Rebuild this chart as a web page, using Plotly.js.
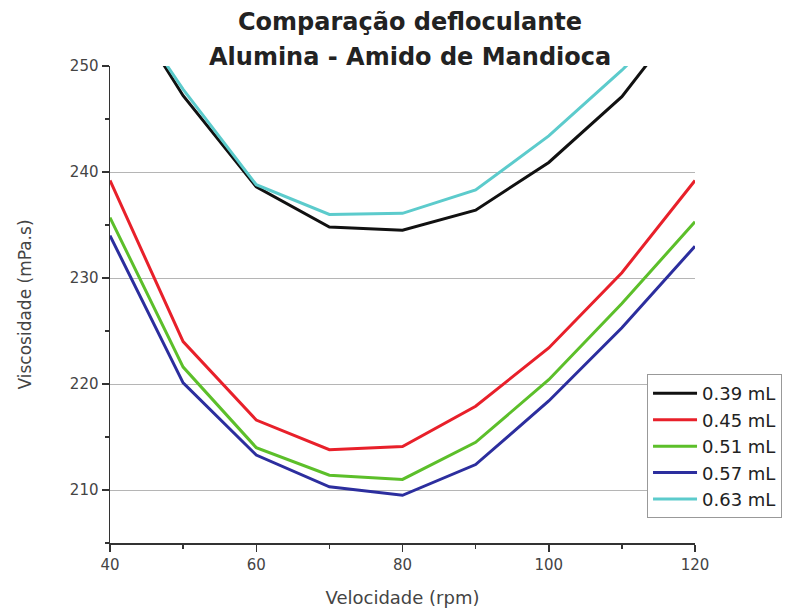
<!DOCTYPE html>
<html>
<head>
<meta charset="utf-8">
<script src="https://cdn.plot.ly/plotly-3.0.1.min.js"></script>
<style>html,body{margin:0;padding:0;background:#fff;}#chart{width:790px;height:612px;}</style>
</head>
<body>
<div id="chart"></div>
<script>
var velocidade = [40, 50, 60, 70, 80, 90, 100, 110, 120];
var seriesNames = ["0.39 mL", "0.45 mL", "0.51 mL", "0.57 mL", "0.63 mL"];
var v039 = [258.2, 247.2, 238.6, 234.8, 234.5, 236.4, 240.9, 247.1, 256.0];
var v045 = [239.2, 224.0, 216.6, 213.8, 214.1, 217.9, 223.4, 230.5, 239.2];
var v051 = [235.7, 221.6, 214.0, 211.4, 211.0, 214.5, 220.4, 227.6, 235.3];
var v057 = [234.0, 220.1, 213.3, 210.3, 209.5, 212.4, 218.4, 225.3, 233.0];
var v063 = [258.0, 247.8, 238.8, 236.0, 236.1, 238.3, 243.4, 249.6, 256.5];
var colors = ["#111111", "#e8202a", "#5cbf2a", "#2c2e9e", "#5ccbcc"];
var yTicks = [210, 220, 230, 240, 250];
var gridTicks = [210, 220, 230, 240];
var xTicks = [40, 60, 80, 100, 120];

var allY = [v039, v045, v051, v057, v063];
var traces = allY.map(function (ys, i) {
  return {
    x: velocidade, y: ys, name: seriesNames[i], type: "scatter", mode: "lines",
    line: {color: colors[i], width: 3}
  };
});
// invisible trace to host grid axis
traces.push({x: [velocidade[0]], y: [gridTicks[0]], yaxis: "y2", showlegend: false,
  mode: "markers", marker: {opacity: 0}, hoverinfo: "skip"});

var font = "DejaVu Sans, Verdana, sans-serif";
var layout = {
  width: 790, height: 612,
  paper_bgcolor: "#ffffff", plot_bgcolor: "rgba(0,0,0,0)",
  margin: {l: 110, r: 95, t: 66, b: 69, autoexpand: false},
  font: {family: font, color: "#444444", size: 15},
  showlegend: true,
  xaxis: {
    range: [40, 120], tickvals: xTicks, ticks: "outside", ticklen: 7, tickwidth: 1.5,
    tickcolor: "#333", showline: true, linecolor: "#333", linewidth: 1.5,
    showgrid: false, zeroline: false, tickfont: {size: 15, color: "#444"},
    minor: {dtick: 10, tick0: 40, ticks: "outside", ticklen: 4, tickcolor: "#333", showgrid: false},
    title: {text: "Velocidade (rpm)", font: {size: 18, color: "#444"}, standoff: 19}
  },
  yaxis: {
    range: [205, 250], tickvals: yTicks, ticks: "outside", ticklen: 7, tickwidth: 1.5,
    tickcolor: "#333", showline: true, linecolor: "#333", linewidth: 1.5,
    showgrid: false, zeroline: false, tickfont: {size: 15, color: "#444"},
    minor: {dtick: 5, tick0: 205, ticks: "outside", ticklen: 4, tickcolor: "#333", showgrid: false},
    title: {text: "Viscosidade (mPa.s)", font: {size: 17, color: "#444"}, standoff: 34}
  },
  yaxis2: {
    overlaying: "y", range: [205, 250], tickvals: gridTicks, showticklabels: false,
    showgrid: true, gridcolor: "#b5b5b5", gridwidth: 1, zeroline: false, ticks: "", showline: false
  },
  legend: {
    x: 0.918, xanchor: "left", y: 0.354, yanchor: "top",
    bgcolor: "#ffffff", bordercolor: "#999", borderwidth: 1, itemwidth: 44,
    font: {size: 18, color: "#222"}, tracegroupgap: 0
  },
  annotations: [
    {text: "<b>Comparação defloculante</b>", xref: "paper", yref: "paper", x: 0.513, y: 1 + (66 - 22) / 477,
      xanchor: "center", yanchor: "middle", showarrow: false, font: {size: 24, color: "#222", family: font}},
    {text: "<b>Alumina - Amido de Mandioca</b>", xref: "paper", yref: "paper", x: 0.513, y: 1 + (66 - 57) / 477,
      xanchor: "center", yanchor: "middle", showarrow: false, font: {size: 24, color: "#222", family: font}}
  ]
};
Plotly.newPlot("chart", traces, layout, {displayModeBar: false, staticPlot: true});
</script>
</body>
</html>
